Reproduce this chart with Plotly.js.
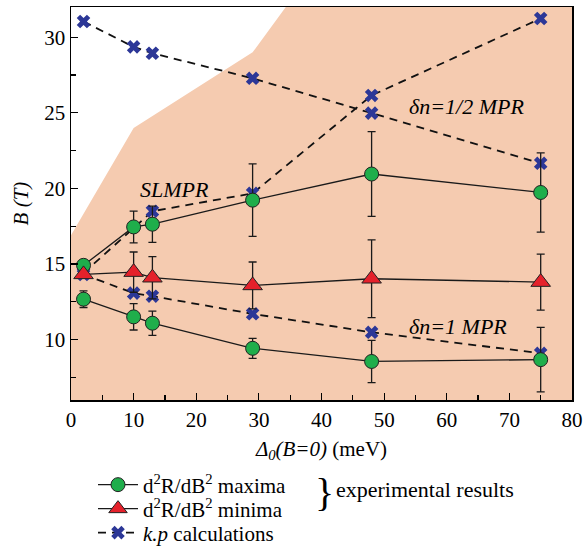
<!DOCTYPE html>
<html>
<head>
<meta charset="utf-8">
<script src="https://cdn.plot.ly/plotly-3.0.1.min.js"></script>
<style>html,body{margin:0;padding:0;background:#fff;}#chart{width:584px;height:548px;}</style>
</head>
<body>
<div id="chart"></div>
<script>
// Shaded region boundary (Δ0, B)
var shadeX = [0, 0, 10, 29, 34.3, 80, 80];
var shadeY = [6, 16.9, 24.0, 29.0, 32, 32, 6];

// k.p calculations (three branches)
var kpUpperX = [2, 10, 13, 29, 48, 75];
var kpUpperY = [31.04, 29.36, 28.94, 27.28, 24.98, 21.66];
var kpSlmprX = [2, 13, 29, 48, 75];
var kpSlmprY = [14.4, 18.49, 19.67, 26.15, 31.24];
var kpLowerX = [2, 10, 13, 29, 48, 75];
var kpLowerY = [14.3, 13.07, 12.87, 11.70, 10.48, 9.09];

// d2R/dB2 maxima (two branches) with error bars
var maxUpperX = [2, 10, 13, 29, 48, 75];
var maxUpperY = [14.91, 17.45, 17.63, 19.22, 20.95, 19.73];
var maxUpperErr = [0, 1.05, 1.2, 2.4, 2.8, 2.62];
var maxLowerX = [2, 10, 13, 29, 48, 75];
var maxLowerY = [12.67, 11.50, 11.08, 9.42, 8.55, 8.67];
var maxLowerErr = [0.55, 0.87, 0.8, 0.66, 1.4, 2.13];

// d2R/dB2 minima with error bars
var minX = [2, 10, 13, 29, 48, 75];
var minY = [14.31, 14.46, 14.09, 13.58, 14.02, 13.80];
var minErr = [0, 1.33, 1.4, 1.55, 2.57, 1.85];

var FONT = "Liberation Serif";
var GREEN = "#1fae4b", RED = "#e5212b", BLUE = "#2c3797", PEACH = "#f5cbb0";

function kpTrace(x, y, show) {
  return {x: x, y: y, type: "scatter", mode: "lines+markers",
    line: {color: "#111", width: 1.8, dash: "8px,6px"},
    marker: {symbol: "x", size: 12, color: BLUE, line: {width: 0}},
    name: "<i>k.p</i> calculations", legend: "legend3", showlegend: show,
    hoverinfo: "x+y"};
}
function expTrace(x, y, err, sym, col, size, name, leg, show) {
  return {x: x, y: y, type: "scatter", mode: "lines+markers",
    line: {color: "#1a1a1a", width: 1.3},
    marker: {symbol: sym, size: size, color: col, line: {color: "#222", width: 1}},
    error_y: {type: "data", array: err, visible: true, color: "#1a1a1a", thickness: 1.3, width: 4},
    name: name, legend: leg, showlegend: show, hoverinfo: "x+y"};
}

var traces = [
  {x: shadeX, y: shadeY, type: "scatter", mode: "lines", fill: "toself",
   fillcolor: PEACH, line: {width: 0, color: PEACH}, showlegend: false, hoverinfo: "skip"},
  kpTrace(kpUpperX, kpUpperY, true),
  kpTrace(kpSlmprX, kpSlmprY, false),
  kpTrace(kpLowerX, kpLowerY, false),
  expTrace(maxUpperX, maxUpperY, maxUpperErr, "circle", GREEN, 14, "d<sup>2</sup>R/dB<sup>2</sup> maxima", "legend", true),
  expTrace(maxLowerX, maxLowerY, maxLowerErr, "circle", GREEN, 14, "d<sup>2</sup>R/dB<sup>2</sup> maxima", "legend", false),
  expTrace(minX, minY, minErr, "triangle-up", RED, 17, "d<sup>2</sup>R/dB<sup>2</sup> minima", "legend2", true)
];

function py(px) { return (400 - px) / 393; }
function pxX(px) { return (px - 71) / 501; }
var legBase = {x: pxX(93), xanchor: "left", yanchor: "middle", bgcolor: "rgba(0,0,0,0)",
  font: {family: FONT, size: 21}, itemwidth: 40};

var layout = {
  width: 584, height: 548,
  margin: {l: 71, r: 12, t: 7, b: 148, autoexpand: false},
  paper_bgcolor: "#fff", plot_bgcolor: "#fff",
  font: {family: FONT, size: 21, color: "#000"},
  xaxis: {range: [0, 80], dtick: 10, tick0: 0, ticks: "inside", ticklen: 7, tickwidth: 1.2,
    tickcolor: "#000", showline: true, linecolor: "#000", linewidth: 1.5, mirror: true,
    showgrid: false, zeroline: false, automargin: false,
    minor: {dtick: 5, ticks: "inside", ticklen: 5, tickwidth: 1.2, tickcolor: "#000", showgrid: false},
    tickfont: {family: FONT, size: 21},
    title: {text: "<i>Δ<sub>0</sub>(B=0)</i> (meV)", font: {family: FONT, size: 21}, standoff: 10}},
  yaxis: {range: [6, 32], dtick: 5, tick0: 0, ticks: "inside", ticklen: 7, tickwidth: 1.2,
    tickcolor: "#000", showline: true, linecolor: "#000", linewidth: 1.5, mirror: true,
    showgrid: false, zeroline: false, automargin: false,
    minor: {dtick: 2.5, ticks: "inside", ticklen: 5, tickwidth: 1.2, tickcolor: "#000", showgrid: false},
    tickfont: {family: FONT, size: 21},
    title: {text: "<i>B (T)</i>", font: {family: FONT, size: 21}, standoff: 10}},
  legend: Object.assign({}, legBase, {y: py(485)}),
  legend2: Object.assign({}, legBase, {y: py(509)}),
  legend3: Object.assign({}, legBase, {y: py(533)}),
  annotations: [
    {x: 16.5, y: 19.9, xref: "x", yref: "y", text: "<i>SLMPR</i>", showarrow: false,
     font: {family: FONT, size: 22}},
    {x: 63.2, y: 25.4, xref: "x", yref: "y", text: "<i>δn=1/2 MPR</i>", showarrow: false,
     font: {family: FONT, size: 22}},
    {x: 61.8, y: 10.86, xref: "x", yref: "y", text: "<i>δn=1 MPR</i>", showarrow: false,
     font: {family: FONT, size: 22}},
    {x: pxX(324.5), y: py(492), xref: "paper", yref: "paper", xanchor: "center", yanchor: "middle",
     text: "}", showarrow: false, font: {family: FONT, size: 40}},
    {x: pxX(334), y: py(489), xref: "paper", yref: "paper", xanchor: "left", yanchor: "middle",
     text: "experimental results", showarrow: false, font: {family: FONT, size: 22}}
  ]
};

Plotly.newPlot("chart", traces, layout, {displayModeBar: false, staticPlot: true});
</script>
</body>
</html>
